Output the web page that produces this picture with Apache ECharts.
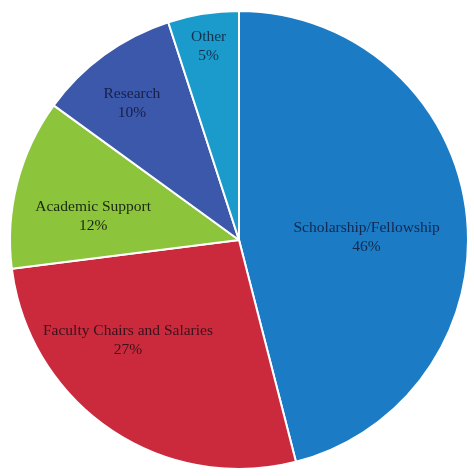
<!DOCTYPE html>
<html>
<head>
<meta charset="utf-8">
<script src="https://cdn.jsdelivr.net/npm/echarts@6/dist/echarts.min.js"></script>
<style>html,body{margin:0;padding:0;background:#fff;}#c{width:474px;height:476px;}</style>
</head>
<body>
<div id="c"></div>
<script>
const categories = ["Scholarship/Fellowship", "Faculty Chairs and Salaries", "Academic Support", "Research", "Other"];
const values = [46, 27, 12, 10, 5];
const colors = ["#1b7bc4", "#cb2a3d", "#8cc53c", "#3b58aa", "#1a9bcb"];
const labelColors = ["#14284f", "#3a121c", "#1b2612", "#161f4a", "#15304f"];
const labelShift = [[11, 12], [-45, 3], [-32, 6], [-38, -42], [-12, -78]];

const chart = echarts.init(document.getElementById('c'));
chart.setOption({
  animation: false,
  series: [{
    type: 'pie',
    center: [239, 240],
    radius: [0, 229],
    startAngle: 90,
    clockwise: true,
    itemStyle: { borderColor: '#ffffff', borderWidth: 2 },
    label: {
      show: true,
      position: 'inside',
      fontFamily: 'Liberation Serif',
      fontSize: 15.5,
      lineHeight: 19,
      align: 'center',
      formatter: p => p.name + '\n' + p.value + '%'
    },
    labelLine: { show: false },
    labelLayout: p => ({ dx: labelShift[p.dataIndex][0], dy: labelShift[p.dataIndex][1] }),
    data: categories.map((n, i) => ({
      name: n, value: values[i],
      itemStyle: { color: colors[i] },
      label: { color: labelColors[i] }
    }))
  }]
});
</script>
</body>
</html>
